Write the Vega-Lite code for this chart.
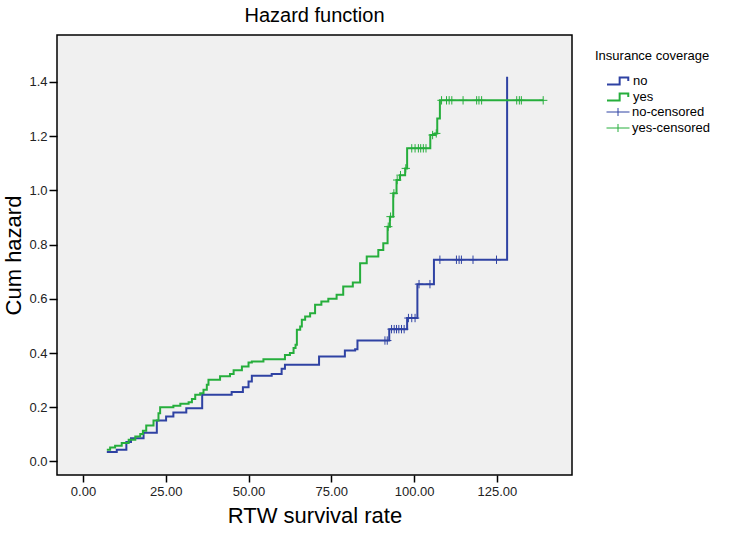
{
  "$schema": "https://vega.github.io/schema/vega-lite/v6.json",
  "width": 515,
  "height": 440,
  "autosize": {"type": "none"},
  "padding": {"left": 57, "top": 35, "right": 165, "bottom": 58},
  "background": "white",
  "title": {"text": "Hazard function", "fontSize": 20, "fontWeight": "normal", "font": "Liberation Sans", "color": "#000", "offset": 9, "anchor": "middle"},
  "config": {
    "font": "Liberation Sans",
    "view": {"fill": "#f0f0f0", "stroke": "#000", "strokeWidth": 1.5},
    "axis": {"domain": false, "grid": false, "tickColor": "#000", "tickWidth": 1.5, "labelFont": "Liberation Sans", "labelColor": "#222", "labelFontSize": 13, "titleFont": "Liberation Sans", "titleFontWeight": "normal", "titleColor": "#000", "titleFontSize": 22},
    "legend": {"padding": 0, "titleFontSize": 13, "titleFontWeight": "normal", "titleColor": "#000", "titleFont": "Liberation Sans", "titlePadding": 10, "labelFontSize": 13, "labelColor": "#000", "labelFont": "Liberation Sans", "symbolSize": 529, "clipHeight": 16, "rowPadding": 0, "symbolOffset": 11, "labelOffset": 2, "symbolFillColor": "transparent"}
  },
  "datasets": {
    "curves": [
      {"group": "no", "time": 7.2, "hazard": 0.035},
      {"group": "no", "time": 10.2, "hazard": 0.043},
      {"group": "no", "time": 13.1, "hazard": 0.072},
      {"group": "no", "time": 14.5, "hazard": 0.086},
      {"group": "no", "time": 18.3, "hazard": 0.106},
      {"group": "no", "time": 22.3, "hazard": 0.151},
      {"group": "no", "time": 25.1, "hazard": 0.166},
      {"group": "no", "time": 27.3, "hazard": 0.181},
      {"group": "no", "time": 31.2, "hazard": 0.196},
      {"group": "no", "time": 36.0, "hazard": 0.246},
      {"group": "no", "time": 44.9, "hazard": 0.256},
      {"group": "no", "time": 48.3, "hazard": 0.274},
      {"group": "no", "time": 50.0, "hazard": 0.295},
      {"group": "no", "time": 51.0, "hazard": 0.316},
      {"group": "no", "time": 57.0, "hazard": 0.323},
      {"group": "no", "time": 60.0, "hazard": 0.342},
      {"group": "no", "time": 61.0, "hazard": 0.357},
      {"group": "no", "time": 71.3, "hazard": 0.387},
      {"group": "no", "time": 79.1, "hazard": 0.409},
      {"group": "no", "time": 82.2, "hazard": 0.414},
      {"group": "no", "time": 82.9, "hazard": 0.446},
      {"group": "no", "time": 92.5, "hazard": 0.488},
      {"group": "no", "time": 97.9, "hazard": 0.529},
      {"group": "no", "time": 101.0, "hazard": 0.654},
      {"group": "no", "time": 106.0, "hazard": 0.744},
      {"group": "no", "time": 128.1, "hazard": 1.419},
      {"group": "yes", "time": 7.2, "hazard": 0.043},
      {"group": "yes", "time": 8.2, "hazard": 0.051},
      {"group": "yes", "time": 9.7, "hazard": 0.058},
      {"group": "yes", "time": 11.7, "hazard": 0.068},
      {"group": "yes", "time": 13.8, "hazard": 0.08},
      {"group": "yes", "time": 15.8, "hazard": 0.092},
      {"group": "yes", "time": 17.3, "hazard": 0.101},
      {"group": "yes", "time": 18.1, "hazard": 0.113},
      {"group": "yes", "time": 19.1, "hazard": 0.133},
      {"group": "yes", "time": 21.3, "hazard": 0.151},
      {"group": "yes", "time": 22.8, "hazard": 0.178},
      {"group": "yes", "time": 23.3, "hazard": 0.2},
      {"group": "yes", "time": 27.3, "hazard": 0.205},
      {"group": "yes", "time": 29.4, "hazard": 0.213},
      {"group": "yes", "time": 31.9, "hazard": 0.218},
      {"group": "yes", "time": 32.9, "hazard": 0.23},
      {"group": "yes", "time": 33.9, "hazard": 0.246},
      {"group": "yes", "time": 35.4, "hazard": 0.252},
      {"group": "yes", "time": 36.4, "hazard": 0.264},
      {"group": "yes", "time": 37.4, "hazard": 0.283},
      {"group": "yes", "time": 37.9, "hazard": 0.301},
      {"group": "yes", "time": 41.4, "hazard": 0.314},
      {"group": "yes", "time": 44.4, "hazard": 0.323},
      {"group": "yes", "time": 45.5, "hazard": 0.336},
      {"group": "yes", "time": 48.0, "hazard": 0.35},
      {"group": "yes", "time": 50.0, "hazard": 0.365},
      {"group": "yes", "time": 51.0, "hazard": 0.369},
      {"group": "yes", "time": 54.5, "hazard": 0.377},
      {"group": "yes", "time": 61.0, "hazard": 0.393},
      {"group": "yes", "time": 62.5, "hazard": 0.4},
      {"group": "yes", "time": 63.6, "hazard": 0.418},
      {"group": "yes", "time": 64.2, "hazard": 0.43},
      {"group": "yes", "time": 64.6, "hazard": 0.486},
      {"group": "yes", "time": 65.6, "hazard": 0.498},
      {"group": "yes", "time": 66.1, "hazard": 0.523},
      {"group": "yes", "time": 67.1, "hazard": 0.535},
      {"group": "yes", "time": 68.6, "hazard": 0.547},
      {"group": "yes", "time": 70.1, "hazard": 0.578},
      {"group": "yes", "time": 72.0, "hazard": 0.59},
      {"group": "yes", "time": 74.1, "hazard": 0.6},
      {"group": "yes", "time": 76.6, "hazard": 0.615},
      {"group": "yes", "time": 78.6, "hazard": 0.645},
      {"group": "yes", "time": 81.5, "hazard": 0.66},
      {"group": "yes", "time": 83.7, "hazard": 0.731},
      {"group": "yes", "time": 85.7, "hazard": 0.756},
      {"group": "yes", "time": 89.2, "hazard": 0.78},
      {"group": "yes", "time": 90.7, "hazard": 0.805},
      {"group": "yes", "time": 92.0, "hazard": 0.866},
      {"group": "yes", "time": 92.7, "hazard": 0.903},
      {"group": "yes", "time": 93.7, "hazard": 0.989},
      {"group": "yes", "time": 94.7, "hazard": 1.038},
      {"group": "yes", "time": 95.7, "hazard": 1.056},
      {"group": "yes", "time": 97.3, "hazard": 1.081},
      {"group": "yes", "time": 97.9, "hazard": 1.155},
      {"group": "yes", "time": 104.9, "hazard": 1.204},
      {"group": "yes", "time": 106.3, "hazard": 1.21},
      {"group": "yes", "time": 107.0, "hazard": 1.265},
      {"group": "yes", "time": 107.8, "hazard": 1.332},
      {"group": "yes", "time": 139.0, "hazard": 1.332}
    ],
    "censored": [
      {"series": "no-censored", "time": 91.2, "hazard": 0.446},
      {"series": "no-censored", "time": 91.9, "hazard": 0.446},
      {"series": "no-censored", "time": 93.2, "hazard": 0.488},
      {"series": "no-censored", "time": 94.0, "hazard": 0.488},
      {"series": "no-censored", "time": 94.7, "hazard": 0.488},
      {"series": "no-censored", "time": 95.4, "hazard": 0.488},
      {"series": "no-censored", "time": 96.2, "hazard": 0.488},
      {"series": "no-censored", "time": 97.0, "hazard": 0.488},
      {"series": "no-censored", "time": 98.3, "hazard": 0.529},
      {"series": "no-censored", "time": 99.3, "hazard": 0.529},
      {"series": "no-censored", "time": 100.3, "hazard": 0.529},
      {"series": "no-censored", "time": 101.5, "hazard": 0.654},
      {"series": "no-censored", "time": 104.8, "hazard": 0.654},
      {"series": "no-censored", "time": 107.8, "hazard": 0.744},
      {"series": "no-censored", "time": 112.8, "hazard": 0.744},
      {"series": "no-censored", "time": 113.6, "hazard": 0.744},
      {"series": "no-censored", "time": 114.3, "hazard": 0.744},
      {"series": "no-censored", "time": 117.8, "hazard": 0.744},
      {"series": "no-censored", "time": 124.9, "hazard": 0.744},
      {"series": "yes-censored", "time": 92.2, "hazard": 0.866},
      {"series": "yes-censored", "time": 92.9, "hazard": 0.903},
      {"series": "yes-censored", "time": 93.9, "hazard": 0.989},
      {"series": "yes-censored", "time": 94.9, "hazard": 1.038},
      {"series": "yes-censored", "time": 95.9, "hazard": 1.056},
      {"series": "yes-censored", "time": 97.5, "hazard": 1.081},
      {"series": "yes-censored", "time": 99.3, "hazard": 1.155},
      {"series": "yes-censored", "time": 100.3, "hazard": 1.155},
      {"series": "yes-censored", "time": 101.3, "hazard": 1.155},
      {"series": "yes-censored", "time": 102.0, "hazard": 1.155},
      {"series": "yes-censored", "time": 102.8, "hazard": 1.155},
      {"series": "yes-censored", "time": 103.6, "hazard": 1.155},
      {"series": "yes-censored", "time": 105.6, "hazard": 1.204},
      {"series": "yes-censored", "time": 106.7, "hazard": 1.21},
      {"series": "yes-censored", "time": 108.3, "hazard": 1.332},
      {"series": "yes-censored", "time": 109.8, "hazard": 1.332},
      {"series": "yes-censored", "time": 110.6, "hazard": 1.332},
      {"series": "yes-censored", "time": 111.4, "hazard": 1.332},
      {"series": "yes-censored", "time": 114.8, "hazard": 1.332},
      {"series": "yes-censored", "time": 118.9, "hazard": 1.332},
      {"series": "yes-censored", "time": 119.6, "hazard": 1.332},
      {"series": "yes-censored", "time": 120.4, "hazard": 1.332},
      {"series": "yes-censored", "time": 131.0, "hazard": 1.332},
      {"series": "yes-censored", "time": 131.8, "hazard": 1.332},
      {"series": "yes-censored", "time": 132.4, "hazard": 1.332},
      {"series": "yes-censored", "time": 139.0, "hazard": 1.332}
    ]
  },
  "encoding": {
    "x": {"field": "time", "type": "quantitative", "scale": {"domain": [-7.85, 147.7], "nice": false, "zero": false},
      "axis": {"values": [0, 25, 50, 75, 100, 125], "format": ".2f", "tickSize": 7, "labelPadding": 3, "title": "RTW survival rate", "titlePadding": 7}},
    "y": {"field": "hazard", "type": "quantitative", "scale": {"domain": [-0.05, 1.573], "nice": false, "zero": false},
      "axis": {"values": [0, 0.2, 0.4, 0.6, 0.8, 1.0, 1.2, 1.4], "format": ".1f", "tickSize": 8, "labelPadding": 2, "title": "Cum hazard", "titlePadding": 3}}
  },
  "layer": [
    {
      "data": {"name": "curves"},
      "mark": {"type": "line", "interpolate": "step-after", "strokeWidth": 2},
      "encoding": {
        "order": {"field": "time", "type": "quantitative"},
        "color": {"field": "group", "type": "nominal", "scale": {"domain": ["no", "yes"], "range": ["#2f42a3", "#26ae3c"]},
          "legend": {"title": "Insurance coverage", "orient": "none", "legendX": 538, "legendY": 15,
            "symbolType": "M-1,0.3L0.1,0.3L0.1,-0.3L0.85,-0.3L0.85,0", "symbolStrokeWidth": 2}}
      }
    },
    {
      "data": {"name": "censored"},
      "mark": {"type": "point", "filled": false, "strokeWidth": 1, "size": 70, "opacity": 1, "shape": "M-1,0L1,0M0,-1L0,1"},
      "encoding": {
        "stroke": {"field": "series", "type": "nominal", "scale": {"domain": ["no-censored", "yes-censored"], "range": ["#2f42a3", "#26ae3c"]},
          "legend": {"title": null, "orient": "none", "legendX": 538, "legendY": 69,
            "symbolType": "M-1,0L1,0M0,-0.35L0,0.35", "symbolStrokeWidth": 1}}
      }
    }
  ]
}
